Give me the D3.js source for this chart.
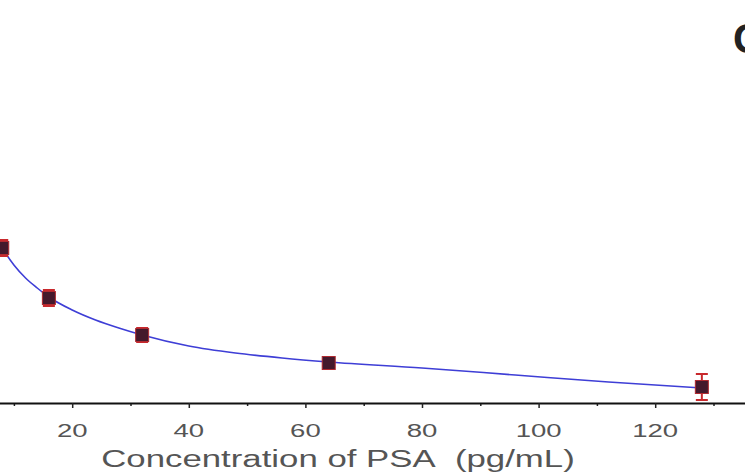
<!DOCTYPE html>
<html>
<head>
<meta charset="utf-8">
<script src="https://d3js.org/d3.v7.min.js"></script>
<style>
  body { margin: 0; background: #fff; }
  text { font-family: "Liberation Sans", Arial, sans-serif; }
</style>
</head>
<body>
<div id="chart"></div>
<script>
// PSA concentration (pg/mL) and measured signal (a.u.), with error
var conc = [8, 16, 32, 64, 128];
var signal = [15.5, 10.5, 6.8, 4.0, 1.6];
var errs = [0.8, 0.8, 0.7, 0.3, 1.3];

// fitted curve
var fitX = [6, 7, 8, 10, 12, 14, 16, 20, 24, 28, 32, 40, 48, 56, 64, 80, 96, 112, 128];
var fitY = [17.7, 16.5, 15.5, 13.8, 12.5, 11.5, 10.6, 9.3, 8.3, 7.5, 6.8, 5.7, 5.0, 4.5, 4.1, 3.5, 2.8, 2.1, 1.5];

var majorTicks = [20, 40, 60, 80, 100, 120];
var minorTicks = [10, 30, 50, 70, 90, 110, 130];

var width = 745, height = 475;
var stretch = 1.45; // text in the figure is widened

var svg = d3.select("#chart").append("svg")
  .attr("width", width)
  .attr("height", height);

var x = d3.scaleLinear().domain([0, 140]).range([-44.4, -44.4 + 140 * 5.83]);
var y = d3.scaleLinear().domain([0, 20]).range([403, 203]);

// axis
svg.append("g")
  .attr("transform", "translate(0,403)")
  .call(d3.axisBottom(x).tickValues(minorTicks).tickSize(3).tickFormat(""))
  .call(function(g){ g.select(".domain").remove(); })
  .selectAll("line").attr("stroke", "#222").attr("stroke-width", 1.5);

svg.append("g")
  .attr("transform", "translate(0,403)")
  .call(d3.axisBottom(x).tickValues(majorTicks).tickSize(5).tickFormat(""))
  .call(function(g){
    g.select(".domain").attr("stroke", "#111").attr("stroke-width", 2);
    g.selectAll("line").attr("stroke", "#222").attr("stroke-width", 1.5);
  });

svg.selectAll(".tlab")
  .data(majorTicks)
  .enter()
  .append("text")
    .attr("class", "tlab")
    .attr("transform", function(d){ return "translate(" + x(d) + ",437) scale(" + stretch + ",1)"; })
    .attr("text-anchor", "middle")
    .attr("font-size", "19px")
    .attr("fill", "#555")
    .text(function(d){ return d; });

svg.append("text")
  .attr("transform", "translate(338,467) scale(1.48,1)")
  .attr("text-anchor", "middle")
  .attr("font-size", "23.5px")
  .attr("fill", "#555")
  .text("Concentration of PSA\u00a0\u00a0(pg/mL)");

// fitted curve
var line = d3.line()
  .x(function(d){ return x(d[0]); })
  .y(function(d){ return y(d[1]); })
  .curve(d3.curveMonotoneX);

svg.append("path")
  .datum(fitX.map(function(v, i){ return [v, fitY[i]]; }))
  .attr("d", line)
  .attr("fill", "none")
  .attr("stroke", "#3e3ed6")
  .attr("stroke-width", 1.6);

var pts = conc.map(function(c, i){ return {x: c, y: signal[i], e: errs[i]}; });

// error bars
var eb = svg.selectAll(".eb").data(pts).enter().append("g").attr("class", "eb");
eb.append("line")
  .attr("x1", function(d){ return x(d.x); })
  .attr("x2", function(d){ return x(d.x); })
  .attr("y1", function(d){ return y(d.y + d.e); })
  .attr("y2", function(d){ return y(d.y - d.e); })
  .attr("stroke", "#c8282c").attr("stroke-width", 2);
eb.selectAll(".cap")
  .data(function(d){ return [d.y + d.e, d.y - d.e].map(function(v){ return {x: d.x, v: v}; }); })
  .enter().append("line")
  .attr("x1", function(d){ return x(d.x) - 6; })
  .attr("x2", function(d){ return x(d.x) + 6; })
  .attr("y1", function(d){ return y(d.v); })
  .attr("y2", function(d){ return y(d.v); })
  .attr("stroke", "#c8282c").attr("stroke-width", 2);

// markers
svg.selectAll(".mk")
  .data(pts)
  .enter()
  .append("rect")
    .attr("class", "mk")
    .attr("x", function(d){ return x(d.x) - 6.5; })
    .attr("y", function(d){ return y(d.y) - 6.5; })
    .attr("width", 13)
    .attr("height", 13)
    .attr("fill", "#44192c")
    .attr("stroke", "#b02a30")
    .attr("stroke-width", 1);

// panel letter, cut off at the right edge as in the figure
svg.append("text")
  .attr("x", 733)
  .attr("y", 53)
  .attr("font-size", "42px")
  .attr("font-weight", "bold")
  .attr("fill", "#222")
  .text("C");
</script>
</body>
</html>
